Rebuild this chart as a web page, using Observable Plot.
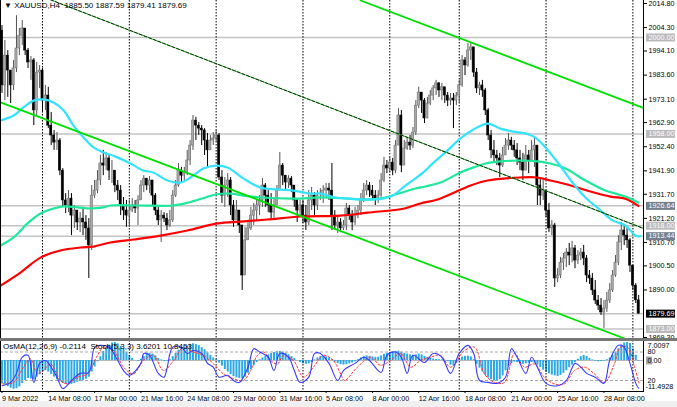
<!DOCTYPE html>
<html><head><meta charset="utf-8">
<script src="https://cdn.jsdelivr.net/npm/d3@7"></script>
<script src="https://cdn.jsdelivr.net/npm/@observablehq/plot@0.6"></script>
<style>
body{margin:0;background:#fff;}
#wrap{position:relative;width:677px;height:407px;overflow:hidden;background:#fff;font-family:"Liberation Sans",Arial,sans-serif;}
#wrap svg{position:absolute;left:0;overflow:visible;}
.chrome{position:absolute;}
.lbl{position:absolute;white-space:pre;font-size:8px;color:#000;line-height:9px;}
</style></head><body><div id="wrap"></div>
<script>
// ---------- data ----------
const firstOpen = 2003.0;
const closes = [
1979.1,1992.1,1985.6,1979.1,1986.5,1995.2,2000.8,2003.9,1994.3,1989.1,
1990.0,1968.2,1984.7,1985.6,1972.5,1974.7,1961.6,1957.3,1954.2,1955.1,
1942.0,1929.0,1926.8,1929.8,1922.4,1924.6,1919.4,1921.1,1919.4,1916.8,
1909.4,1931.1,1933.3,1937.7,1945.1,1944.2,1947.3,1942.0,1942.0,1935.5,
1933.3,1926.8,1924.6,1922.4,1924.6,1926.8,1925.5,1929.0,1935.5,1938.5,
1935.5,1937.7,1931.1,1924.6,1920.3,1922.4,1921.1,1918.1,1920.3,1931.1,
1935.5,1942.0,1939.8,1941.1,1946.4,1952.9,1963.8,1961.6,1960.3,1959.5,
1955.1,1950.8,1955.1,1956.0,1957.3,1939.0,1931.1,1935.5,1937.7,1926.8,
1920.3,1924.6,1918.1,1896.3,1911.6,1916.8,1922.4,1924.6,1926.8,1929.0,
1935.5,1931.1,1926.8,1923.7,1926.8,1933.3,1944.2,1939.8,1936.8,1938.5,
1935.5,1929.0,1924.6,1926.8,1922.4,1919.4,1929.0,1931.1,1926.8,1931.1,
1931.1,1933.3,1934.2,1933.3,1922.4,1918.1,1919.4,1916.8,1918.1,1925.5,
1922.4,1919.4,1922.4,1924.6,1929.0,1933.3,1935.5,1933.3,1931.1,1929.8,
1931.1,1937.7,1944.2,1942.9,1945.5,1942.0,1952.9,1966.0,1944.2,1951.6,
1954.2,1952.9,1958.6,1970.3,1976.0,1972.5,1964.7,1971.2,1974.7,1977.8,
1980.0,1976.9,1978.3,1974.7,1972.5,1973.4,1972.5,1974.7,1979.1,1990.0,
1987.8,1994.3,1995.7,1984.7,1977.8,1979.1,1976.9,1968.2,1957.3,1950.8,
1948.6,1947.3,1944.2,1948.6,1952.9,1955.1,1952.9,1950.8,1947.3,1945.5,
1942.0,1948.6,1946.4,1950.8,1952.9,1935.5,1931.1,1933.3,1924.6,1916.8,
1918.1,1895.0,1896.3,1901.9,1903.7,1906.3,1905.0,1908.1,1902.8,1905.0,
1906.3,1903.7,1896.3,1895.0,1889.8,1885.4,1883.2,1880.2,1881.9,1885.4,
1889.8,1896.3,1901.9,1910.7,1915.9,1913.7,1911.6,1900.6,1891.9,1885.5,1879.69];
const highs = [
2005.2,1998.7,1994.3,1982.1,1990.0,2009.5,2003.9,2007.4,1999.5,1995.2,
1991.7,1990.8,1989.1,1987.8,1986.5,1979.1,1978.3,1967.3,1959.5,1958.6,
1956.0,1942.9,1932.0,1933.3,1932.0,1926.8,1924.6,1923.7,1926.0,1922.4,
1921.1,1935.5,1937.7,1942.0,1948.6,1950.8,1949.9,1948.6,1946.4,1939.8,
1937.7,1935.5,1930.3,1929.0,1929.0,1929.8,1929.0,1931.1,1937.7,1939.8,
1938.5,1939.4,1936.8,1932.0,1926.0,1924.6,1923.7,1923.3,1924.6,1933.3,
1937.7,1945.1,1943.4,1943.4,1950.8,1955.1,1966.0,1965.2,1962.9,1961.6,
1960.3,1958.2,1957.3,1958.6,1959.5,1958.2,1942.0,1939.0,1940.7,1939.0,
1929.0,1929.0,1924.6,1918.1,1917.3,1920.3,1926.0,1927.7,1929.0,1931.1,
1938.5,1936.4,1933.3,1932.0,1929.8,1935.5,1949.9,1945.1,1939.8,1939.8,
1939.4,1935.5,1929.8,1929.0,1929.0,1926.8,1933.3,1934.7,1932.4,1933.3,
1934.2,1935.5,1936.4,1936.4,1945.1,1924.6,1922.4,1921.1,1920.3,1927.7,
1926.8,1924.6,1926.0,1926.8,1932.0,1936.4,1937.7,1936.8,1935.5,1933.3,
1933.3,1940.7,1947.8,1946.4,1947.8,1947.3,1955.1,1969.0,1968.2,1955.1,
1956.5,1957.3,1960.8,1972.5,1978.3,1974.7,1973.4,1973.9,1976.9,1979.1,
1981.3,1980.4,1980.0,1977.8,1976.0,1975.6,1975.6,1976.0,1981.3,1992.1,
1991.3,1997.4,1997.8,1995.2,1986.5,1980.4,1981.3,1977.8,1969.0,1959.5,
1955.1,1950.8,1949.5,1952.1,1956.0,1958.2,1956.5,1955.1,1953.8,1950.8,
1949.5,1952.9,1950.8,1955.1,1956.0,1952.9,1939.0,1937.7,1933.3,1927.7,
1920.3,1919.0,1899.3,1904.2,1905.9,1908.1,1910.3,1911.2,1909.4,1907.2,
1908.1,1909.4,1905.0,1898.5,1897.2,1894.1,1887.6,1886.3,1885.4,1888.9,
1892.8,1898.5,1905.0,1913.7,1919.4,1918.1,1916.8,1912.4,1900.6,1892.8,1887.59];
const lows = [
1975.6,1972.5,1973.9,1971.2,1976.9,1984.7,1992.1,1996.5,1992.1,1986.5,
1981.3,1961.6,1966.0,1977.8,1967.3,1968.2,1960.3,1952.9,1950.8,1950.8,
1939.8,1926.0,1923.3,1923.7,1913.7,1916.8,1915.9,1915.0,1913.7,1911.6,
1895.0,1907.2,1929.8,1932.0,1935.5,1939.8,1942.0,1937.7,1936.4,1932.4,
1929.0,1922.4,1920.3,1917.3,1917.3,1923.7,1923.3,1918.1,1929.0,1932.4,
1933.3,1932.0,1926.8,1922.4,1918.1,1910.7,1919.4,1915.9,1917.3,1919.4,
1930.3,1934.7,1936.8,1937.7,1939.8,1944.2,1950.8,1955.1,1957.3,1952.9,
1948.6,1943.4,1951.6,1952.9,1954.2,1937.7,1927.7,1926.0,1930.3,1922.4,
1917.3,1922.4,1914.6,1889.8,1897.2,1911.6,1915.9,1918.1,1920.3,1922.4,
1926.0,1926.0,1923.7,1920.3,1920.3,1926.8,1933.3,1935.5,1933.3,1934.2,
1932.4,1926.0,1919.4,1922.4,1919.0,1915.9,1918.1,1924.6,1922.4,1924.6,
1929.0,1927.7,1930.3,1929.0,1915.9,1915.9,1914.6,1915.0,1915.9,1915.9,
1920.3,1915.9,1918.1,1921.1,1922.4,1928.1,1931.1,1930.3,1929.0,1926.8,
1927.7,1930.3,1936.8,1940.7,1941.1,1939.8,1940.7,1954.2,1941.1,1947.3,
1950.8,1950.8,1951.6,1957.3,1969.0,1966.9,1962.5,1966.9,1970.3,1972.5,
1974.7,1973.9,1972.5,1971.2,1969.9,1970.3,1960.3,1970.3,1971.6,1978.3,
1983.4,1987.0,1990.0,1982.6,1975.6,1974.7,1973.9,1966.0,1955.1,1947.3,
1945.1,1944.2,1939.0,1943.4,1948.6,1950.8,1950.8,1947.8,1944.2,1942.0,
1937.7,1944.2,1940.7,1946.4,1943.4,1926.8,1926.8,1929.0,1921.6,1915.0,
1913.7,1891.1,1893.2,1895.0,1898.5,1899.8,1900.6,1901.9,1899.3,1901.1,
1902.8,1900.6,1893.2,1892.4,1887.6,1883.7,1881.1,1878.9,1873.2,1880.2,
1884.1,1888.9,1895.5,1900.6,1907.2,1909.4,1908.1,1897.6,1889.8,1884.1,1879.41];

// moving averages (bar index, price)
const maFastIdx = [-0.5,4,7.4,10.9,14.3,17.8,21.3,24.7,28.2,31.6,35.1,39.2,44.4,48.9,52.3,57.2,61.7,65.1,69.6,73.8,77.9,83.4,89.3,95.2,100.7,106.6,110.1,115.2,119.7,125.6,131.5,135,139.4,142.9,146.3,149.1,154,158.4,162.9,167.8,172.2,176.7,180.9,184.3,187.8,192.3,197.1,201.6,206.1,211,215.4,218.9,220.6];
const maFastVal = [1963.8,1966.0,1969.5,1972.5,1973.0,1971.7,1968.2,1961.6,1956.4,1952.1,1949.9,1948.1,1945.1,1942.0,1941.2,1937.7,1936.8,1939.0,1942.9,1944.2,1943.4,1938.6,1934.6,1933.8,1933.3,1932.0,1932.0,1930.3,1929.8,1929.4,1929.8,1931.1,1935.5,1938.6,1942.0,1945.5,1950.8,1956.0,1959.9,1962.5,1960.3,1959.0,1958.2,1956.4,1952.1,1945.1,1936.8,1930.3,1925.5,1920.3,1918.1,1913.7,1913.4];
const maMidIdx = [-0.5,4,8.8,13.3,17.8,21.3,26.1,30.6,35.1,37.5,47.2,58.9,64.4,70.3,73.8,79,83.4,89.3,100.7,110.1,119.7,125.6,132.5,137,142.9,146.3,151.5,158.4,162.9,167.1,172.2,179.2,185,189.5,194.7,201.6,208.5,215.4,219.9];
const maMidVal = [1909.4,1912.9,1919.0,1923.3,1925.5,1926.4,1926.0,1925.5,1926.0,1926.8,1926.8,1926.8,1928.1,1930.3,1931.6,1932.0,1931.1,1930.3,1929.8,1930.3,1929.8,1929.4,1930.3,1932.0,1934.2,1935.1,1936.8,1941.2,1943.4,1945.1,1946.0,1946.4,1946.0,1945.1,1942.9,1937.7,1933.3,1930.7,1928.1];
const maSlowIdx = [-0.5,6.4,13.3,20.2,27.1,31.6,37.5,45.4,54.8,64.1,74.5,82.4,91.7,103.1,117,126.3,139.1,144.6,150.5,161.9,167.8,179.2,185,189.5,196.5,203.3,210.3,215.4,219.9];
const maSlowVal = [1891.9,1897.6,1904.1,1907.2,1908.5,1908.9,1910.7,1912.0,1913.7,1915.9,1919.0,1919.8,1920.7,1922.0,1922.4,1923.7,1925.5,1927.7,1929.4,1935.5,1937.7,1939.0,1939.0,1937.7,1935.5,1932.9,1930.7,1929.8,1926.6];

// trend lines (bar index, price endpoints)
const chanUpper = [[123.9,2016.1],[221.7,1969.3]];
const chanLower = [[-0.5,1971.7],[216.1,1868.4]];
const chanMid   = [[16.8,2016.4],[221.7,1916.8]];

// horizontal levels and their price-axis markers
const levelPrices = [2000, 1958, 1926.64, 1918, 1913.44, 1879.69, 1873];
const levelKinds  = ["level","level","ma","level","ma","bid","level"];
const priceTicks = [2014.80,2004.30,1994.10,1983.60,1973.10,1962.90,1952.40,1941.90,1931.70,1921.20,1910.70,1900.50,1890.00,1869.30];

// weekly separators (bar index)
const separators = [14,44,74,104,134,158,188,218];
// time axis
const dateIdx = [0,16,32,48,64,80,96,112,128,144,160,176,192,208];
const dateLabels = ["9 Mar 2022","14 Mar 08:00","17 Mar 00:00","21 Mar 16:00","24 Mar 08:00","29 Mar 00:00","31 Mar 16:00","5 Apr 08:00","8 Apr 00:00","12 Apr 16:00","18 Apr 08:00","21 Apr 00:00","25 Apr 16:00","28 Apr 08:00"];

// OsMA(12,26,9) histogram, one value per bar
const osma = [
-9.0,-9.5,-10.2,-10.8,-11.2,-11.0,-10.3,-9.0,-7.8,-7.0,
-7.2,-7.5,-6.5,-5.5,-4.5,-4.0,-4.5,-5.5,-6.5,-7.5,
-8.3,-9.0,-9.3,-9.5,-9.3,-9.0,-8.5,-8.2,-7.8,-7.3,
-6.5,-4.5,-2.5,-0.5,1.5,3.5,5.0,6.0,6.8,7.0,
6.5,5.5,4.5,3.0,1.8,0.8,0.0,-0.3,0.5,1.5,
2.5,2.8,2.5,1.8,0.8,0.2,-0.3,-0.2,0.3,1.5,
2.8,4.0,4.8,5.3,5.8,6.3,6.5,6.2,5.8,5.0,
4.2,3.0,2.0,1.0,0.3,-1.0,-2.2,-3.5,-4.5,-5.5,
-6.3,-6.8,-7.0,-7.2,-6.5,-5.0,-3.5,-2.0,-0.8,0.3,
1.0,1.6,2.2,2.7,3.1,3.4,3.5,3.3,2.8,2.2,
1.5,0.8,0.0,-0.8,-1.3,-1.5,-1.3,-0.8,0.2,1.0,
1.5,1.6,1.4,1.0,0.3,-0.6,-1.2,-1.6,-1.8,-1.6,
-1.3,-1.0,-0.5,0.3,1.0,1.5,1.8,1.6,1.4,1.2,
1.3,1.8,2.4,2.8,3.0,3.3,3.5,3.6,3.2,2.8,
2.5,2.2,2.0,2.2,2.5,2.2,1.6,1.2,0.9,0.6,
0.4,0.3,0.3,0.1,-0.5,-1.8,-2.0,-1.2,0.5,1.3,
1.6,1.7,1.4,0.3,-1.5,-3.0,-4.5,-5.8,-6.8,-7.5,
-8.0,-8.2,-7.5,-6.0,-4.0,-2.5,-1.2,-0.6,-0.8,-1.2,
-1.5,-1.3,-1.0,-0.8,-1.0,-1.8,-2.8,-3.8,-4.6,-5.2,
-5.7,-6.0,-6.2,-5.8,-5.0,-4.0,-2.8,-1.8,-0.8,0.5,
1.5,2.0,1.6,0.8,0.2,-0.3,-0.5,-0.4,-0.2,0.3,
1.0,2.0,3.2,4.6,6.0,6.8,7.0,6.6,4.5,2.0,-0.2];
const osmaMax = 7.0097, osmaMin = -11.4928;

// Stochastic(5,3,3): main and signal (bar index, value)
const stochMainIdx = [0,3,5,7,9,11,13,15,17,19,21,24,27,30,32,34,37,40,42,44,48,49,51,54,56,57,59,62,64,66,69,71,73,75,78,80,82,85,87,89,92,94,96,99,101,103,106,108,110,113,116,118,122,125,127,131,133,136,138,140,142,146,149,152,155,158,161,163,165,168,171,174,176,178,181,183,185,188,192,195,198,200,202,205,208,210,213,215,217,219,220];
const stochMainVal = [9,16,35,69,73,16,56,62,48,27,3,20,35,37,90,94,90,62,41,31,56,77,73,35,27,45,90,90,77,83,77,56,48,27,31,20,16,48,87,80,69,41,77,69,41,16,27,77,77,56,20,41,56,69,62,37,73,80,69,35,73,58,77,69,35,77,94,77,20,16,14,27,87,69,35,69,48,14,9,20,56,48,35,27,14,62,94,90,56,14,3.62];
const stochSigIdx = [0,4,7.4,9.8,12.3,14.3,16.8,20.2,22.6,26.1,29.5,33,35.1,38.5,42,45.4,48.9,52.3,55.8,59.3,62.7,66.2,69.6,73.1,76.5,80,83.4,85.9,88.3,90.4,92.8,95.2,97.3,100.7,104.2,107.6,111.1,114.5,117,118.3,122.8,127.3,130.8,134.2,137.7,141.2,144.6,148.1,151.5,155,159.8,163.3,166.7,170.2,173.6,177.1,180.5,184,187.4,190.9,194.4,197.8,201.3,204.7,208.2,211.6,213.7,216.2,218.6,220.3];
const stochSigVal = [13,16,48,66,34,41,55,20,13,27,34,73,90,83,48,34,62,73,41,62,90,80,73,55,34,24,20,41,73,80,62,55,73,62,27,48,73,62,34,20,48,69,52,62,77,48,62,69,73,48,83,90,34,16,16,77,48,55,27,13,13,41,48,34,16,55,90,90,48,10.85];
const stochLevels = [80, 20];

// ---------- build ----------
const wrap = document.getElementById("wrap");
const xDomain = [-0.518, 221.67];
const font = '"Liberation Sans",Arial,sans-serif';
const baseStyle = {fontFamily: font, fontSize: "7.2px", background: "transparent", color: "#000", overflow: "visible"};

const candles = closes.map((c, i) => {
  const o = i === 0 ? firstOpen : closes[i - 1];
  return {i, o, c, h: Math.max(highs[i], o, c), l: Math.min(lows[i], o, c), up: c >= o};
});
const pts = (idx, val) => idx.map((i, k) => ({i, p: val[k]}));
const seg = a => a.map(([i, p]) => ({i, p}));
const levels = levelPrices.map((p, k) => ({p, kind: levelKinds[k]}));
const boxFill = {level: "#bababa", ma: "#737f8c", bid: "#000000"};

function place(svg, top) { svg.style.top = top + "px"; wrap.appendChild(svg); }
function chrome(l, t, w, h, bg) { const d = document.createElement("div"); d.className = "chrome"; Object.assign(d.style, {left: l + "px", top: t + "px", width: w + "px", height: h + "px", background: bg}); wrap.appendChild(d); }

// main price chart
const main = Plot.plot({
  width: 677, height: 340, marginLeft: 0, marginRight: 34, marginTop: 0, marginBottom: 0,
  style: baseStyle,
  x: {domain: xDomain, axis: null},
  y: {domain: [1869.3, 2014.8], range: [337, 3], axis: "right", ticks: priceTicks, tickFormat: d => d.toFixed(2), tickSize: 3, tickPadding: 2, label: null},
  color: {type: "identity"},
  marks: [
    Plot.ruleY(levels, {y: "p", stroke: "#c3c3c3", strokeWidth: 1.5}),
    Plot.ruleX(separators, {stroke: "#000", strokeDasharray: "1.5,1.5", strokeWidth: 1}),
    Plot.ruleX(candles, {x: "i", y1: "l", y2: "h", stroke: d => d.up ? "#555" : "#000", strokeWidth: 1}),
    Plot.rect(candles, {x1: d => d.i - 0.38, x2: d => d.i + 0.38, y1: "o", y2: "c", fill: d => d.up ? "#a8a8a8" : "#000", stroke: d => d.up ? "#6a6a6a" : "#000", strokeWidth: 0.5}),
    Plot.line(pts(maSlowIdx, maSlowVal), {x: "i", y: "p", stroke: "#ff0000", strokeWidth: 2.2, curve: "catmull-rom", clip: true}),
    Plot.line(pts(maMidIdx, maMidVal), {x: "i", y: "p", stroke: "#1ee89b", strokeWidth: 2.2, curve: "catmull-rom", clip: true}),
    Plot.line(pts(maFastIdx, maFastVal), {x: "i", y: "p", stroke: "#33e3ff", strokeWidth: 2.2, curve: "catmull-rom", clip: true}),
    Plot.line(seg(chanUpper), {x: "i", y: "p", stroke: "#00e000", strokeWidth: 1.8, clip: true}),
    Plot.line(seg(chanLower), {x: "i", y: "p", stroke: "#00e000", strokeWidth: 1.8, clip: true}),
    Plot.line(seg(chanMid), {x: "i", y: "p", stroke: "#33cc33", strokeWidth: 1, clip: true}),
    Plot.line(seg(chanMid), {x: "i", y: "p", stroke: "#0b2a0b", strokeWidth: 1, strokeDasharray: "3,2", clip: true})
  ]
});
place(main, 0);

// price-axis markers
const mainTags = Plot.plot({
  width: 677, height: 340, marginLeft: 646, marginRight: 2, marginTop: 0, marginBottom: 0,
  style: baseStyle,
  x: {domain: [0, 1], axis: null},
  y: {domain: [1869.3, 2014.8], range: [337, 3], axis: null},
  color: {type: "identity"},
  marks: [
    Plot.ruleY(levels, {y: "p", stroke: d => boxFill[d.kind], strokeWidth: 8}),
    Plot.text(levels, {y: "p", text: d => d.p.toFixed(2), fill: "#fff", frameAnchor: "left", textAnchor: "start", dx: 2})
  ]
});
place(mainTags, 0);

// OsMA panel with time axis
const panel = Plot.plot({
  width: 677, height: 67, marginLeft: 0, marginRight: 34, marginTop: 0, marginBottom: 16,
  style: baseStyle,
  x: {domain: xDomain, axis: null},
  y: {domain: [osmaMin, osmaMax], range: [49.5, 2], axis: null},
  marks: [
    Plot.ruleY([0], {stroke: "#b8b8b8", strokeWidth: 1}),
    Plot.ruleX(osma.map((v, i) => ({i, v})), {x: "i", y1: 0, y2: "v", stroke: "#2ba8e6", strokeWidth: 2}),
    Plot.ruleX(separators, {stroke: "#000", strokeDasharray: "1.5,1.5", strokeWidth: 1}),
    Plot.axisX({ticks: dateIdx, tickFormat: d => dateLabels[dateIdx.indexOf(d)], textAnchor: "start", tickSize: 2, tickPadding: 2, anchor: "bottom", label: null})
  ]
});
place(panel, 340);

// Stochastic overlay
const stoch = Plot.plot({
  width: 677, height: 67, marginLeft: 0, marginRight: 34, marginTop: 0, marginBottom: 16,
  style: baseStyle,
  x: {domain: xDomain, axis: null},
  y: {domain: [0, 100], range: [49.5, 2], axis: null},
  marks: [
    Plot.ruleY(stochLevels, {stroke: "#a8a8a8", strokeDasharray: "3,2", strokeWidth: 1}),
    Plot.line(pts(stochSigIdx, stochSigVal), {x: "i", y: "p", stroke: "#ff3030", strokeWidth: 1, strokeDasharray: "2,2", curve: "catmull-rom", clip: true}),
    Plot.line(pts(stochMainIdx, stochMainVal), {x: "i", y: "p", stroke: "#3a3aff", strokeWidth: 1.1, curve: "catmull-rom", clip: true}),
    Plot.text(stochLevels, {y: d => d, text: d => String(d), frameAnchor: "right", textAnchor: "start", dx: 4})
  ]
});
place(stoch, 340);

// panel right-scale tags (OsMA scale)
const panelTags = Plot.plot({
  width: 677, height: 67, marginLeft: 646, marginRight: 25, marginTop: 0, marginBottom: 16,
  style: baseStyle,
  x: {domain: [0, 1], axis: null},
  y: {domain: [osmaMin, osmaMax], range: [49.5, 2], axis: null},
  marks: [
    Plot.ruleY([0], {stroke: "#a9a9a9", strokeWidth: 8}),
    Plot.text([osmaMax], {y: d => d, text: d => d.toFixed(4), frameAnchor: "left", textAnchor: "start", dx: 1, dy: 3.6}),
    Plot.text([0], {y: d => d, text: d => d.toFixed(2), frameAnchor: "left", textAnchor: "start", dx: 1}),
    Plot.text([osmaMin], {y: d => d, text: d => d.toFixed(4), frameAnchor: "left", textAnchor: "start", dx: -1, dy: -3.6})
  ]
});
place(panelTags, 340);

// frame chrome
chrome(0, 0, 1, 391, "#000");
chrome(643, 0, 1, 391, "#000");
chrome(0, 338, 677, 3, "#777");
chrome(0, 391, 644, 1, "#000");
chrome(0, 401, 677, 6, "#f0f0f0");

// texts
const hdr = document.createElement("div"); hdr.className = "lbl";
hdr.style.left = "4px"; hdr.style.top = "1px";
hdr.textContent = "\u25BC XAUUSD,H4  1885.50 1887.59 1879.41 1879.69";
wrap.appendChild(hdr);
const ind = document.createElement("div"); ind.className = "lbl";
ind.style.left = "3px"; ind.style.top = "342px";
ind.textContent = "OsMA(12,26,9) -0.2114  Stoch(5,3,3) 3.6201 10.8453";
wrap.appendChild(ind);
</script>
</body></html>
